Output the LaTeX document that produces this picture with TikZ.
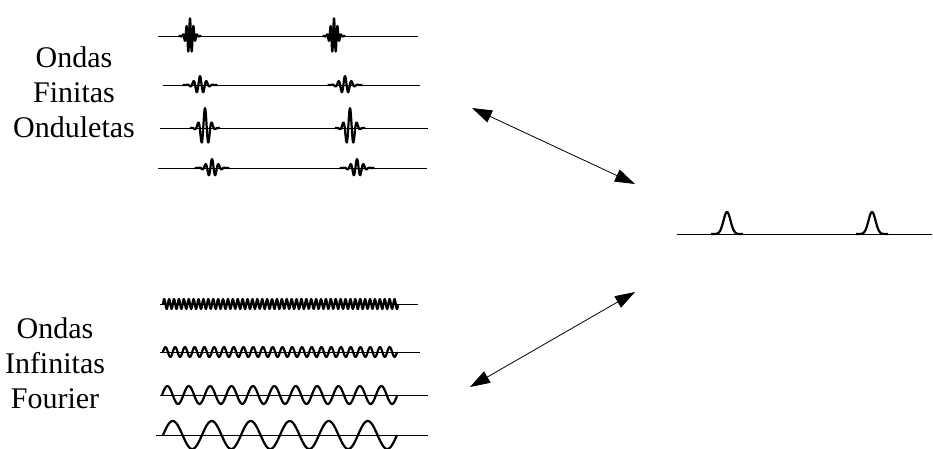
\documentclass[tikz,border=0pt]{standalone}
\usepackage{fontspec}
\setmainfont{Liberation Serif}
\usetikzlibrary{arrows.meta}

\tikzset{
  axisline/.style = {line width=0.9pt},
  wave/.style = {line width=2.2pt, line join=round},
  lbl/.style = {align=center, anchor=base, inner sep=0pt, font=\fontsize{30}{35}\selectfont},
  dblarrow/.style = {line width=0.8pt, {Triangle[length=20pt,width=13pt]}-{Triangle[length=20pt,width=13pt]}}
}

\begin{document}
\begin{tikzpicture}[x=1pt, y=-1pt]
\useasboundingbox (0,0) rectangle (933,448);

\node[lbl] (fin) at (74,137) {Ondas\\Finitas\\Onduletas};
\node[lbl] (inf) at (55,408) {Ondas\\Infinitas\\Fourier};

% onduletas
\foreach \yy/\xa/\xb/\ca/\cb/\amp/\sig/\per in {36/158/418/190/334/18/4.5/3.5, 85/163/420/200/345/9/7/6.5, 128/160/428/205/350/20/6/7, 168/158/427/212/357/9/7/6.5}{
  \draw[axisline] (\xa,\yy) -- (\xb,\yy);
  \foreach \cc in {\ca,\cb}
    \draw[wave] plot[domain=\cc-2.5*\sig:\cc+2.5*\sig, samples=90] (\x, {\yy - \amp*exp(-((\x-\cc)/\sig)*((\x-\cc)/\sig))*cos(360*(\x-\cc)/\per)});
}

% fourier
\foreach \yy/\xa/\xb/\wa/\wb/\amp/\per/\n in {304/160/418/163/398/5/4.9/500, 352/160/420/163/397/5/9.75/300, 395/160/428/162/397/9/21.4/200, 435/156/428/163/397/14/39/200}{
  \draw[axisline] (\xa,\yy) -- (\xb,\yy);
  \draw[wave] plot[domain=\wa:\wb, samples=\n] (\x, {\yy - \amp*sin(360*mod((\x-\wa)/\per,1))});
}

% pulsos
\draw[axisline] (677,234) -- (932,234);
\foreach \cc in {727,872}
  \draw[wave] plot[domain=\cc-16:\cc+16, samples=60] (\x, {234 - 22*exp(-((\x-\cc)/5)*((\x-\cc)/5))});

\coordinate (a1) at (472,108);
\coordinate (a2) at (635,184);
\coordinate (b1) at (635,292);
\coordinate (b2) at (470,387);
\draw[dblarrow] (a1) -- (a2);
\draw[dblarrow] (b1) -- (b2);
\end{tikzpicture}
\end{document}
